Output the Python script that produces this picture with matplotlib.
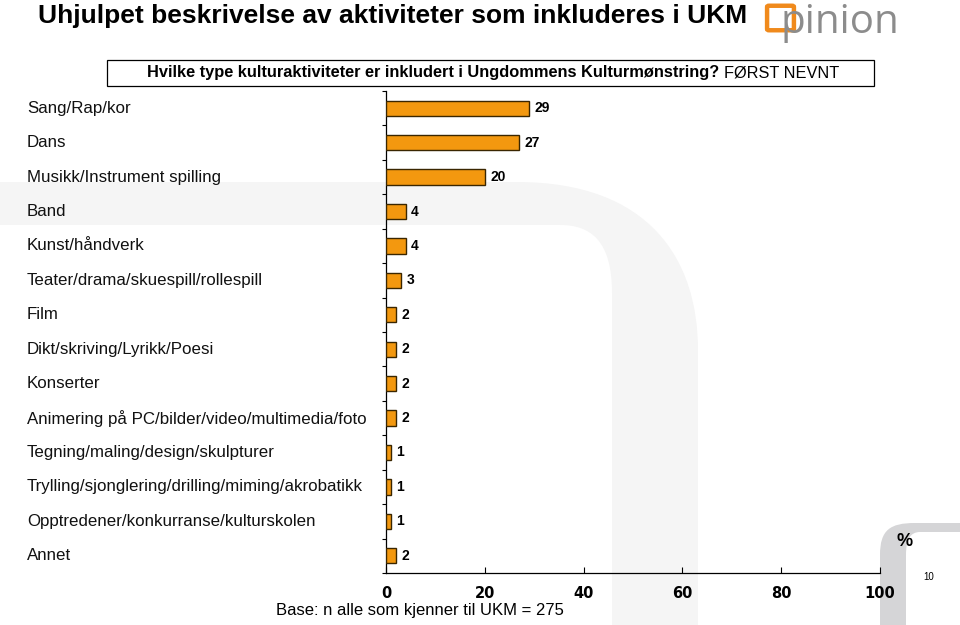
import matplotlib
matplotlib.use("Agg")
import matplotlib.pyplot as plt
import matplotlib.transforms as mtransforms
from matplotlib.path import Path
from matplotlib.patches import PathPatch, FancyBboxPatch, Rectangle

categories = [
    "Sang/Rap/kor",
    "Dans",
    "Musikk/Instrument spilling",
    "Band",
    "Kunst/håndverk",
    "Teater/drama/skuespill/rollespill",
    "Film",
    "Dikt/skriving/Lyrikk/Poesi",
    "Konserter",
    "Animering på PC/bilder/video/multimedia/foto",
    "Tegning/maling/design/skulpturer",
    "Trylling/sjonglering/drilling/miming/akrobatikk",
    "Opptredener/konkurranse/kulturskolen",
    "Annet",
]
values = [29, 27, 20, 4, 4, 3, 2, 2, 2, 2, 1, 1, 1, 2]
x_ticks = [0, 20, 40, 60, 80, 100]

W, H = 960, 625
fig = plt.figure(figsize=(9.6, 6.25), dpi=100)


def px(x, y):
    # pixel coords (top-left origin) -> figure fraction
    return x / W, 1 - y / H


def pix_path(points, codes):
    verts = [px(x, y) for x, y in points]
    return Path(verts, codes)


M, L, C, Z = Path.MOVETO, Path.LINETO, Path.CURVE4, Path.CLOSEPOLY

# faint background "n" watermark
n_pts = [(0, 182), (517, 182), (650, 182), (698, 260), (698, 350), (698, 625),
         (612, 625), (612, 293), (612, 240), (590, 225), (560, 225), (0, 225), (0, 182)]
n_codes = [M, L, C, C, C, L, L, L, C, C, C, L, Z]
fig.patches.append(PathPatch(pix_path(n_pts, n_codes), transform=fig.transFigure,
                             facecolor="#f5f5f5", edgecolor="none", zorder=-5))

# gray corner shape bottom right
c_pts = [(880, 625), (880, 555), (880, 530), (890, 523), (915, 523), (960, 523),
         (960, 532), (920, 532), (910, 532), (906, 540), (906, 555), (906, 625), (880, 625)]
c_codes = [M, L, C, C, C, L, L, L, C, C, C, L, Z]
fig.patches.append(PathPatch(pix_path(c_pts, c_codes), transform=fig.transFigure,
                             facecolor="#d5d5d7", edgecolor="none", zorder=-5))

ax = fig.add_axes([386 / W, 1 - 573 / H, (880 - 386) / W, (573 - 91) / H])
ax.set_facecolor("none")
ax.set_zorder(2)

ypos = list(range(len(categories)))
ax.barh(ypos, values, height=0.44, color="#f3980f", edgecolor="#3a2600", linewidth=1.0, zorder=3)
for y, v in zip(ypos, values):
    ax.text(v + 1.1, y, str(v), va="center", ha="left", fontsize=10, fontweight="bold",
            family="Liberation Sans", zorder=4)

ax.set_ylim(len(categories) - 0.5, -0.5)
ax.set_xlim(0, 100)
ax.set_xticks(x_ticks)
ax.set_xticklabels([str(t) for t in x_ticks], fontsize=10.5, fontweight="bold", family="DejaVu Sans")
ax.tick_params(axis="x", direction="in", length=4, pad=9)
ax.set_yticks([i - 0.5 for i in range(len(categories) + 1)])
ax.set_yticklabels([])
ax.tick_params(axis="y", direction="out", length=3, width=0.8)
for s in ["top", "right"]:
    ax.spines[s].set_visible(False)
ax.spines["left"].set_linewidth(0.9)
ax.spines["bottom"].set_linewidth(0.9)

# category labels, left aligned at the figure edge
trans = mtransforms.blended_transform_factory(fig.transFigure, ax.transData)
for y, cat in zip(ypos, categories):
    ax.text(27 / W, y, cat, transform=trans, ha="left", va="center", fontsize=12.2,
            family="Liberation Sans", color="#111111")

# title
fig.text(*px(38, 16), "Uhjulpet beskrivelse av aktiviteter som inkluderes i UKM", ha="left", va="center",
         fontsize=19, fontweight="bold", family="Liberation Sans")

# question box
fig.patches.append(Rectangle(px(107, 86), (874 - 107) / W, 26 / H, transform=fig.transFigure,
                             facecolor="white", edgecolor="black", linewidth=0.9, zorder=1))
fig.text(*px(719, 73), "Hvilke type kulturaktiviteter er inkludert i Ungdommens Kulturmønstring?",
         ha="right", va="center", fontsize=11.8, fontweight="bold",
         family="Liberation Sans", zorder=2)
fig.text(*px(724, 73), "FØRST NEVNT", ha="left", va="center", fontsize=11.8,
         family="Liberation Sans", zorder=2)

# logo
fig.patches.append(FancyBboxPatch(px(769, 29), 23 / W, 22 / H, boxstyle="round,pad=0.002",
                                  transform=fig.transFigure, facecolor="none",
                                  edgecolor="#f08a1c", linewidth=3.2, zorder=2))
fig.text(*px(781, 23), "pinion", ha="left", va="center", fontsize=29, color="#8c8c8c",
         family="Open Sans", zorder=3)

fig.text(*px(905, 541), "%", ha="center", va="center", fontsize=13, fontweight="bold",
         family="Liberation Sans")
fig.text(*px(929, 577), "10", ha="center", va="center", fontsize=7, family="Liberation Sans")
fig.text(*px(420, 611), "Base: n alle som kjenner til UKM = 275", ha="center", va="center",
         fontsize=12, family="Liberation Sans")

fig.savefig("out.png", dpi=100)
